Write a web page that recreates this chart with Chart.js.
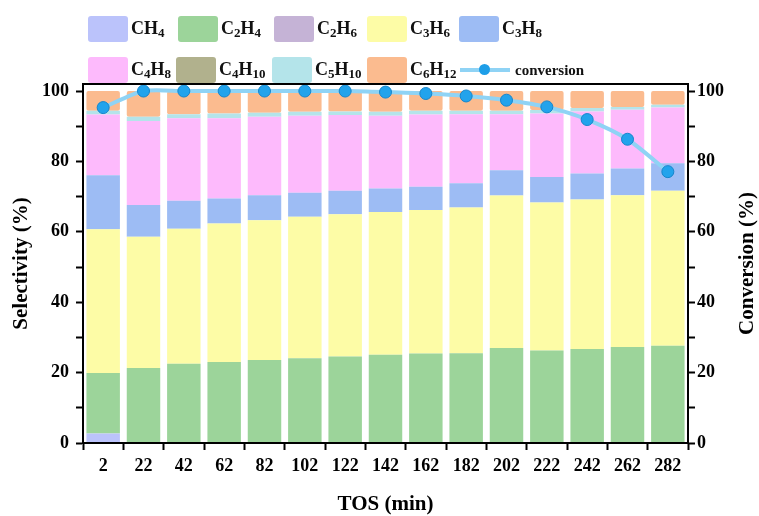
<!DOCTYPE html>
<html>
<head>
<meta charset="utf-8">
<script src="https://cdn.jsdelivr.net/npm/chart.js@4"></script>
<style>
    body { margin: 0; background: white; }
    #wrap { position: relative; width: 759px; height: 516px; }
    #legend { position: absolute; left: 0; top: 0; width: 759px; height: 84px; font-family: "Liberation Serif", serif; font-weight: bold; color: #111; }
    .item { position: absolute; display: flex; align-items: center; height: 26px; }
    .box { width: 40px; height: 26px; border-radius: 3px; margin-right: 3px; }
    .lbl { font-size: 18px; }
    .lbl sub { font-size: 13px; vertical-align: -3px; }
    .lineKey { position: relative; width: 50px; height: 26px; margin-right: 5px; }
    .lineKey .ln { position: absolute; left: 0; right: 0; top: 11px; height: 4px; background: #8fd3f5; }
    .lineKey .dot { position: absolute; left: 19px; top: 7px; width: 11px; height: 11px; border-radius: 50%; background: #1e9ee8; }
</style>
</head>
<body>
<div id="wrap">
    <canvas id="chart" width="759" height="516"></canvas>
    <div id="legend"></div>
</div>
<script>
const tos = ["2", "22", "42", "62", "82", "102", "122", "142", "162", "182", "202", "222", "242", "262", "282"];
const ch4 = [2.7, 0, 0, 0, 0, 0, 0, 0, 0, 0, 0, 0, 0, 0, 0];
const c2h4 = [17.2, 21.3, 22.5, 23.0, 23.6, 24.1, 24.6, 25.1, 25.4, 25.5, 27.0, 26.3, 26.7, 27.3, 27.6];
const c2h6 = [0, 0, 0, 0, 0, 0, 0, 0, 0, 0, 0, 0, 0, 0, 0];
const c3h6 = [40.8, 37.3, 38.4, 39.4, 39.7, 40.2, 40.4, 40.5, 40.8, 41.4, 43.3, 42.0, 42.5, 43.1, 44.1];
const c3h8 = [15.4, 9.0, 7.9, 7.1, 7.1, 6.8, 6.7, 6.7, 6.6, 6.9, 7.2, 7.3, 7.4, 7.6, 7.8];
const c4h8 = [17.2, 23.9, 23.5, 22.8, 22.3, 21.9, 21.5, 20.7, 20.5, 19.6, 15.9, 18.0, 17.6, 16.7, 15.8];
const c4h10 = [0, 0, 0, 0, 0, 0, 0, 0, 0, 0, 0, 0, 0, 0, 0];
const c5h10 = [1.1, 1.2, 1.1, 1.3, 1.1, 1.1, 1.0, 1.1, 1.1, 1.0, 1.0, 1.0, 1.0, 0.8, 0.8];
const c6h12 = [5.6, 7.3, 6.6, 6.4, 6.2, 5.9, 5.8, 5.9, 5.6, 5.6, 5.6, 5.4, 4.8, 4.5, 3.9];
const conversion = [95.3, 100, 100, 100, 100, 100, 100, 99.7, 99.3, 98.6, 97.4, 95.5, 91.9, 86.3, 77.1];
const yTicks = [0, 10, 20, 30, 40, 50, 60, 70, 80, 90, 100];

// name, html label, colour, values
const species = [
    ["CH4", "CH<sub>4</sub>", "#bbc3fb", ch4],
    ["C2H4", "C<sub>2</sub>H<sub>4</sub>", "#9cd49a", c2h4],
    ["C2H6", "C<sub>2</sub>H<sub>6</sub>", "#c5b3d6", c2h6],
    ["C3H6", "C<sub>3</sub>H<sub>6</sub>", "#fdfca6", c3h6],
    ["C3H8", "C<sub>3</sub>H<sub>8</sub>", "#9dbcf4", c3h8],
    ["C4H8", "C<sub>4</sub>H<sub>8</sub>", "#fdbafc", c4h8],
    ["C4H10", "C<sub>4</sub>H<sub>10</sub>", "#b1b18d", c4h10],
    ["C5H10", "C<sub>5</sub>H<sub>10</sub>", "#b4e4ea", c5h10],
    ["C6H12", "C<sub>6</sub>H<sub>12</sub>", "#fbbb8f", c6h12]
];

// legend slots: left, top
const slots = [[88, 16], [178, 16], [274, 16], [367, 16], [459, 16],
               [88, 57], [176, 57], [272, 57], [367, 57], [460, 57]];

let legend = document.getElementById("legend");
species.forEach((s, i) => {
    let d = document.createElement("div");
    d.className = "item";
    d.style.left = slots[i][0] + "px";
    d.style.top = slots[i][1] + "px";
    d.innerHTML = `<div class="box" style="background:${s[2]}"></div><span class="lbl">${s[1]}</span>`;
    legend.appendChild(d);
});
let conv = document.createElement("div");
conv.className = "item";
conv.style.left = slots[9][0] + "px";
conv.style.top = slots[9][1] + "px";
conv.innerHTML = `<div class="lineKey"><div class="ln"></div><div class="dot"></div></div><span style="font-size:15px">conversion</span>`;
legend.appendChild(conv);

const serif = "'Liberation Serif', 'Times New Roman', serif";

// box round the plot + right axis title read bottom-to-top like the left one
const frame = {
    id: "frame",
    afterDraw(chart) {
        const {ctx, chartArea: a} = chart;
        ctx.save();
        ctx.strokeStyle = "black";
        ctx.lineWidth = 2;
        ctx.strokeRect(a.left, a.top, a.right - a.left, a.bottom - a.top);
        ctx.translate(chart.width - 11, (a.top + a.bottom) / 2);
        ctx.rotate(-Math.PI / 2);
        ctx.fillStyle = "black";
        ctx.font = "bold 21px " + serif;
        ctx.textAlign = "center";
        ctx.textBaseline = "middle";
        ctx.fillText("Conversion (%)", 0, 0);
        ctx.restore();
    }
};

let datasets = species.map(s => ({
    type: "bar",
    label: s[0],
    data: s[3],
    backgroundColor: s[2],
    borderWidth: 0,
    borderRadius: 2,
    borderSkipped: false,
    barPercentage: 0.83,
    categoryPercentage: 1,
    yAxisID: "y",
    order: 1
}));
datasets.push({
    type: "line",
    label: "conversion",
    data: conversion,
    borderColor: "#8fd3f5",
    borderWidth: 4,
    tension: 0.25,
    pointRadius: 6,
    pointBackgroundColor: "#22a3ec",
    pointBorderColor: "#1585cc",
    pointBorderWidth: 1,
    yAxisID: "y1",
    order: 0
});

function axisTicks(pad) {
    return {
        padding: pad,
        color: "black",
        font: { family: serif, size: 18, weight: "bold" },
        callback: v => (v % 20 === 0 ? v : "")
    };
}

function setTicks(scale) {
    scale.ticks = yTicks.map(v => ({ value: v }));
}

new Chart("chart", {
    data: { labels: tos, datasets: datasets },
    plugins: [frame],
    options: {
        responsive: false,
        animation: false,
        layout: { padding: { top: 84 } },
        plugins: {
            legend: { display: false },
            tooltip: { enabled: false }
        },
        scales: {
            x: {
                stacked: true,
                grid: { drawOnChartArea: false, drawTicks: true, tickLength: 7, tickWidth: 2, tickColor: "black" },
                border: { color: "black", width: 2 },
                ticks: { padding: 6, color: "black", font: { family: serif, size: 18, weight: "bold" } },
                title: { display: true, text: "TOS (min)", color: "black", font: { family: serif, size: 21, weight: "bold", lineHeight: 1 }, padding: { top: 4, bottom: 1 } },
                afterFit: s => { s.height = 73; }
            },
            y: {
                stacked: true,
                position: "left",
                min: 0,
                max: 102,
                afterBuildTicks: setTicks,
                grid: { drawOnChartArea: false, tickLength: 7, tickWidth: 2, tickColor: "black" },
                border: { color: "black", width: 2 },
                ticks: axisTicks(7),
                title: { display: true, text: "Selectivity (%)", color: "black", font: { family: serif, size: 21, weight: "bold", lineHeight: 1 }, padding: { top: 11 } },
                afterFit: s => { s.width = 83; }
            },
            y1: {
                position: "right",
                min: 0,
                max: 102,
                afterBuildTicks: setTicks,
                grid: { drawOnChartArea: false, tickLength: 7, tickWidth: 2, tickColor: "black" },
                border: { color: "black", width: 2 },
                ticks: axisTicks(2),
                afterFit: s => { s.width = 71; }
            }
        }
    }
});
</script>
</body>
</html>
